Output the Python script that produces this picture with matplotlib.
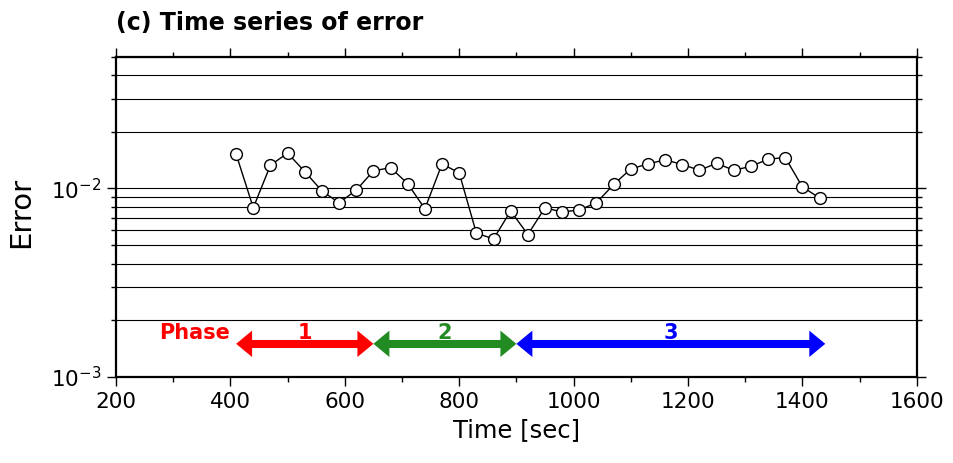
import numpy as np
import matplotlib
matplotlib.use("Agg")
from matplotlib import pyplot as plt
from matplotlib.patches import FancyArrowPatch
from matplotlib.ticker import LogLocator, NullFormatter, MultipleLocator

# error time series (sec, error)
times = [410, 440, 470, 500, 530, 560, 590, 620, 650, 680, 710, 740,
         770, 800, 830, 860, 890, 920, 950, 980, 1010, 1040, 1070, 1100,
         1130, 1160, 1190, 1220, 1250, 1280, 1310, 1340, 1370, 1400, 1430]
errors = [0.0152, 0.0079, 0.0133, 0.0154, 0.0123, 0.0097, 0.0084, 0.0098,
          0.0124, 0.0129, 0.0106, 0.0078, 0.0135, 0.0121, 0.0058, 0.0054,
          0.0076, 0.0057, 0.0079, 0.0075, 0.0077, 0.0084, 0.0105, 0.0127,
          0.0135, 0.0142, 0.0134, 0.0125, 0.0136, 0.0125, 0.0131, 0.0143,
          0.0146, 0.0102, 0.0089]

# phases
phase_names = ["1", "2", "3"]
phase_start = [410, 650, 900]
phase_end = [650, 900, 1440]
phase_colors = ["#ff0000", "#228b22", "#0000ff"]
phase_level = 1.5e-3

fig = plt.figure(figsize=(9.54, 4.63), dpi=100)
ax = fig.add_axes([0.1216, 0.1857, 0.8394, 0.6918])

ax.set_xlim(200, 1600)
ax.set_yscale("log")
ax.set_ylim(1e-3, 5e-2)

ax.xaxis.set_major_locator(MultipleLocator(200))
ax.xaxis.set_minor_locator(MultipleLocator(100))
ax.yaxis.set_major_locator(LogLocator(base=10))
ax.yaxis.set_minor_locator(LogLocator(base=10, subs=np.arange(2, 10)))
ax.yaxis.set_minor_formatter(NullFormatter())

ax.tick_params(which="both", direction="out", top=True, right=True,
               width=1.0, color="black", labelsize=15.5, pad=4)
ax.tick_params(which="major", length=6.5)
ax.tick_params(which="minor", length=3.5)
for sp in ax.spines.values():
    sp.set_linewidth(1.6)

ax.yaxis.grid(True, which="both", color="black", lw=0.8, zorder=0)
ax.set_axisbelow(True)

ax.plot(times, errors, color="black", lw=1.0, marker="o", ms=8.5,
        mfc="white", mec="black", mew=1.0, zorder=3)

# phase arrows: thick shaft plus filled heads
for name, x0, x1, c in zip(phase_names, phase_start, phase_end, phase_colors):
    ax.plot([x0 + 20, x1 - 20], [phase_level, phase_level], color=c, lw=5.8,
            solid_capstyle="butt", zorder=4)
    arr = FancyArrowPatch((x0, phase_level), (x1, phase_level),
                          arrowstyle="<|-|>,head_length=11.5,head_width=9.5",
                          mutation_scale=1, lw=0, color=c, shrinkA=0,
                          shrinkB=0, zorder=4)
    ax.add_patch(arr)
    ax.text((x0 + x1) / 2, 1.585e-3, name, color=c, fontsize=15,
            fontweight="bold", ha="center", va="baseline", zorder=5)

ax.text(338, 1.585e-3, "Phase", color="#ff0000", fontsize=15,
        fontweight="bold", ha="center", va="baseline", zorder=5)

ax.set_xlabel("Time [sec]", fontsize=17.5, labelpad=5)
ax.set_ylabel("Error", fontsize=21)
ax.yaxis.set_label_coords(-0.101, 0.515)

fig.text(116 / 954, 1 - 30 / 463, "(c) Time series of error", fontsize=17,
         fontweight="bold", ha="left", va="baseline")

fig.savefig("out.png", dpi=100)
